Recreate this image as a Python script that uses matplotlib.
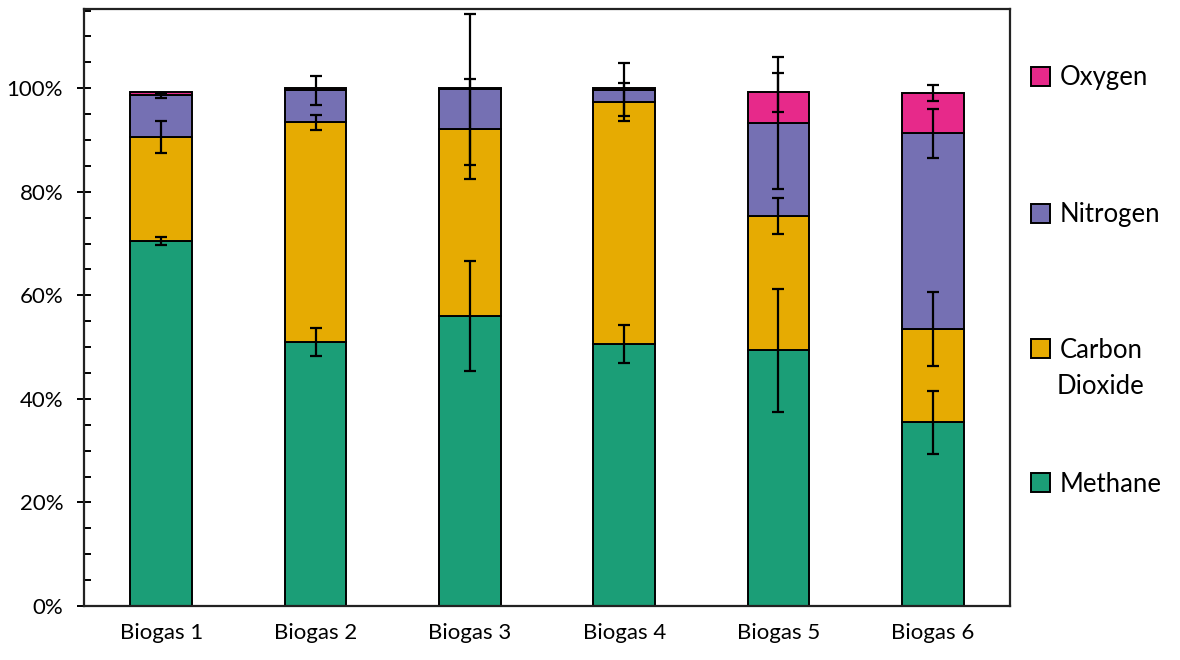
import matplotlib
matplotlib.use("Agg")
import matplotlib.pyplot as plt
import numpy as np
from matplotlib.ticker import MultipleLocator, PercentFormatter, FixedLocator
from matplotlib.patches import Patch

categories = ["Biogas 1", "Biogas 2", "Biogas 3", "Biogas 4", "Biogas 5", "Biogas 6"]
series_names = ["Methane", "Carbon Dioxide", "Nitrogen", "Oxygen"]
methane = [0.705, 0.510, 0.560, 0.506, 0.494, 0.355]
carbon_dioxide = [0.201, 0.424, 0.361, 0.468, 0.259, 0.180]
nitrogen = [0.080, 0.062, 0.077, 0.023, 0.180, 0.378]
oxygen = [0.006, 0.004, 0.003, 0.004, 0.059, 0.078]
methane_err = [0.0085, 0.027, 0.107, 0.037, 0.119, 0.061]
carbon_dioxide_err = [0.031, 0.015, 0.097, 0.037, 0.035, 0.072]
nitrogen_err = [0.004, 0.028, 0.146, 0.051, 0.128, 0.047]
oxygen_err = [0.0, 0.0, 0.0, 0.0, 0.037, 0.016]
colors = ["#1b9e77", "#e6ab02", "#7570b3", "#e7298a"]

plt.rcParams['font.family'] = ['Lato', 'DejaVu Sans']

fig = plt.figure(figsize=(11.8, 6.6), dpi=100)
ax = fig.add_axes([84/1180, 1-606/660, (1010-84)/1180, (606-9)/660])

x = np.arange(len(categories))
values = [methane, carbon_dioxide, nitrogen, oxygen]
errs = [methane_err, carbon_dioxide_err, nitrogen_err, oxygen_err]
bottom = np.zeros(len(categories))
for name, vals, err, c in zip(series_names, values, errs, colors):
    vals = np.array(vals)
    ax.bar(x, vals, width=0.4, bottom=bottom, color=c, edgecolor="black",
           linewidth=1.4, label=name, zorder=2)
    top = bottom + vals
    e = np.array(err)
    mask = e > 0
    ax.errorbar(x[mask], top[mask], yerr=e[mask], fmt="none", ecolor="black",
                elinewidth=1.6, capsize=4.5, capthick=1.6, zorder=3)
    bottom = top

ax.set_xlim(-0.5, len(categories) - 0.5)
ax.set_ylim(0, 1.153)
ax.yaxis.set_major_locator(FixedLocator([0, 0.2, 0.4, 0.6, 0.8, 1.0]))
ax.yaxis.set_minor_locator(MultipleLocator(0.05))
ax.yaxis.set_major_formatter(PercentFormatter(1.0, decimals=0))
ax.tick_params(axis="y", which="major", direction="inout", length=10, width=1.4,
               pad=10, labelsize=16, colors="black")
ax.tick_params(axis="y", which="minor", direction="in", length=5, width=1.4)
ax.set_xticks(x)
ax.set_xticklabels(categories)
ax.tick_params(axis="x", length=0, pad=12, labelsize=16)
for s in ax.spines.values():
    s.set_linewidth(1.6)
    s.set_color("#222222")

# legend entries placed at evenly spaced positions (as in reference)
leg_pos = {"Oxygen": 78, "Nitrogen": 215, "Carbon Dioxide": 350, "Methane": 484}
for name, c in zip(series_names, colors):
    lab = "Carbon" if name == "Carbon Dioxide" else name
    h = Patch(facecolor=c, edgecolor="black", linewidth=1.4)
    lg = fig.legend([h], [lab], loc="center left",
                    bbox_to_anchor=(1031/1180, 1 - leg_pos[name]/660),
                    frameon=False, fontsize=18.5, handlelength=0.75, handleheight=0.75,
                    handletextpad=0.35, borderpad=0, borderaxespad=0)
fig.text(1057/1180, 1 - 386/660, "Dioxide", fontsize=18.5, va="center", ha="left")

fig.savefig("out.png", dpi=100)
